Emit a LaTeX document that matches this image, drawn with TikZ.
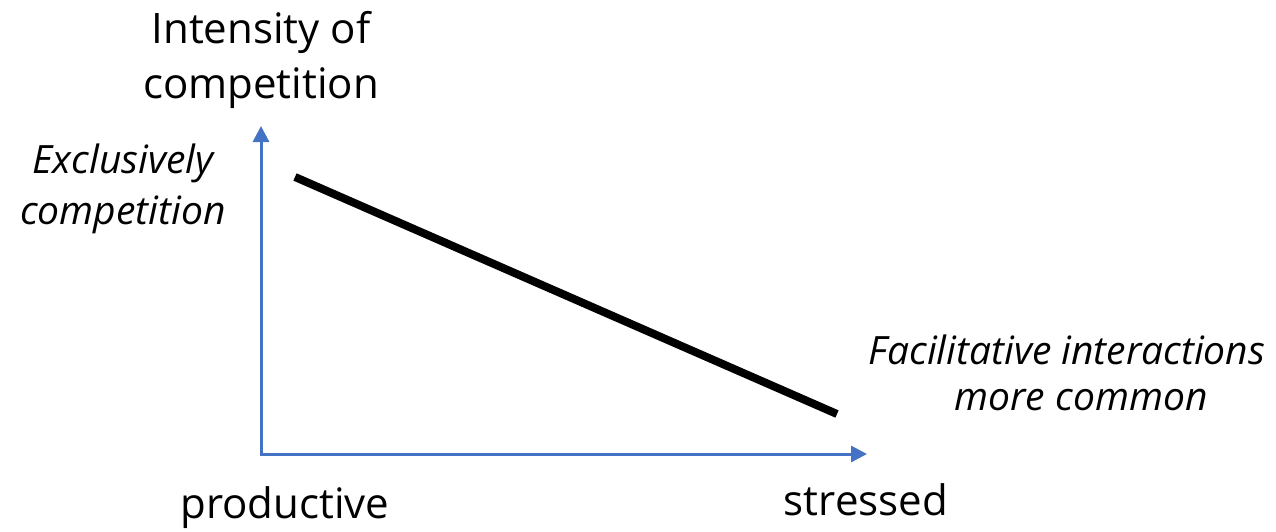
\documentclass[tikz,border=0pt]{standalone}
\usepackage{fontspec}
\setmainfont{Open Sans}
\usetikzlibrary{arrows.meta}
\definecolor{axisblue}{HTML}{4472C4}
\begin{document}
\begin{tikzpicture}[x=1pt,y=-1pt,
  axis/.style={draw=axisblue,line width=3pt,-{Triangle[length=16pt,width=16pt]}},
  big/.style={font=\fontsize{42}{46}\selectfont,inner sep=0pt},
  ital/.style={font=\fontsize{39}{43}\selectfont\itshape,inner sep=0pt}]
\useasboundingbox (0,0) rectangle (1276,531);
\coordinate (o) at (261,454);
\coordinate (ytip) at (261,126);
\coordinate (xtip) at (867,454);
\coordinate (a) at (295,177);
\coordinate (b) at (837,414);
\draw[axis] (261,455.5) -- (ytip);
\draw[axis] (259.5,454) -- (xtip);
\draw[line width=8pt] (a) -- (b);
\node[big] (t1) at (261,32) {Intensity of};
\node[big] (t2) at (261,88) {competition};
\node[ital] (e1) at (123,163) {Exclusively};
\node[ital] (e2) at (123,215) {competition};
\node[ital] (f1) at (1067,350) {Facilitative interactions};
\node[ital] (f2) at (1081,400) {more common};
\node[big] (p) at (285,508) {productive};
\node[big] (s) at (866,500) {stressed};
\end{tikzpicture}
\end{document}
